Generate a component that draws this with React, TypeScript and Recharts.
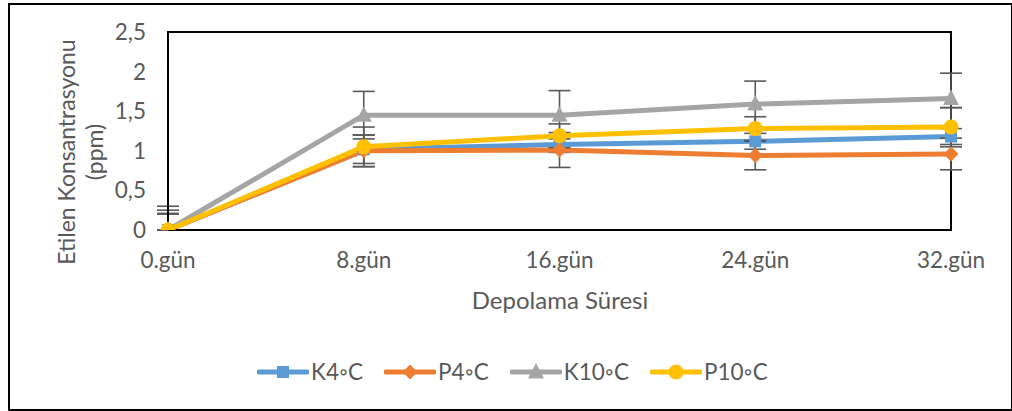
import React from 'react';
import { LineChart, Line, XAxis, YAxis, ErrorBar, ReferenceArea } from 'recharts';

const DAYS = ['0.gün', '8.gün', '16.gün', '24.gün', '32.gün'];
const K4 = [0, 1.02, 1.08, 1.12, 1.18];
const P4 = [0, 1.0, 1.01, 0.94, 0.96];
const K10 = [0, 1.45, 1.45, 1.59, 1.66];
const P10 = [0, 1.05, 1.19, 1.28, 1.3];
// [lower, upper] error per point
const K4_ERR: [number, number][] = [[0, 0.21], [0.18, 0.18], [0.1, 0.1], [0.1, 0.1], [0.1, 0.1]];
const P4_ERR: [number, number][] = [[0, 0.25], [0.2, 0.2], [0.22, 0.22], [0.18, 0.18], [0.2, 0.2]];
const K10_ERR: [number, number][] = [[0, 0.3], [0.3, 0.3], [0.3, 0.31], [0.3, 0.29], [0.115, 0.32]];
const P10_ERR: [number, number][] = [[0, 0.2], [0.25, 0.25], [0.15, 0.15], [0.15, 0.15], [0.25, 0.245]];
const Y_TICKS = [0, 0.5, 1, 1.5, 2, 2.5];

const SERIES = [
  { key: 'k4', name: 'K4◦C', color: '#5B9BD5', shape: 'square' },
  { key: 'p4', name: 'P4◦C', color: '#ED7D31', shape: 'diamond' },
  { key: 'k10', name: 'K10◦C', color: '#A5A5A5', shape: 'triangle' },
  { key: 'p10', name: 'P10◦C', color: '#FFC000', shape: 'circle' },
];

const data = DAYS.map((d, i) => ({
  day: d,
  k4: K4[i],
  p4: P4[i],
  k10: K10[i],
  p10: P10[i],
  k4Err: K4_ERR[i],
  p4Err: P4_ERR[i],
  k10Err: K10_ERR[i],
  p10Err: P10_ERR[i],
}));

const FONT = 'Lato, "Liberation Sans", sans-serif';
const TEXT = '#595959';

const Marker = ({ cx, cy, shape, color }: any) => {
  if (cx == null || cy == null) return null;
  if (shape === 'square') return <rect x={cx - 6} y={cy - 6} width={12} height={12} fill={color} />;
  if (shape === 'diamond')
    return <polygon points={`${cx},${cy - 7.5} ${cx + 7.5},${cy} ${cx},${cy + 7.5} ${cx - 7.5},${cy}`} fill={color} />;
  if (shape === 'triangle')
    return <polygon points={`${cx},${cy - 9} ${cx + 8},${cy + 6.5} ${cx - 8},${cy + 6.5}`} fill={color} />;
  return <circle cx={cx} cy={cy} r={7.5} fill={color} />;
};

const fmt = (v: number) => String(v).replace('.', ',');

const App = () => {
  return (
    <div style={{ position: 'absolute', left: 0, top: 0, width: 1012, height: 411, background: '#fff', fontFamily: FONT }}>
      <div
        style={{
          position: 'absolute',
          left: 8,
          top: 3,
          width: 1001,
          height: 404,
          border: '2px solid #000',
        }}
      />
      <LineChart
        width={1012}
        height={411}
        data={data}
        margin={{ top: 32, right: 61, left: 0, bottom: 0 }}
        style={{ position: 'absolute', left: 0, top: 0 }}
      >
        <XAxis
          dataKey="day"
          height={181}
          axisLine={{ stroke: '#000', strokeWidth: 2 }}
          tickLine={false}
          tickMargin={16}
          tick={{ fill: TEXT, fontSize: 22.5, fontFamily: FONT }}
          interval={0}
        />
        <YAxis
          width={168}
          domain={[0, 2.5]}
          allowDataOverflow
          ticks={Y_TICKS}
          tickFormatter={fmt}
          axisLine={{ stroke: '#000', strokeWidth: 2 }}
          tickLine={false}
          tickMargin={16}
          tick={{ fill: TEXT, fontSize: 22.5, fontFamily: FONT }}
        />
        <ReferenceArea
          x1={DAYS[0]}
          x2={DAYS[DAYS.length - 1]}
          y1={0}
          y2={2.5}
          fill="none"
          fillOpacity={0}
          stroke="#000"
          strokeWidth={2}
          strokeOpacity={1}
        />
        {SERIES.map((s) => (
          <Line
            key={s.key}
            dataKey={s.key}
            name={s.name}
            stroke={s.color}
            strokeWidth={5}
            isAnimationActive={false}
            dot={(p: any) => <Marker key={`${s.key}-${p.index}`} cx={p.cx} cy={p.cy} shape={s.shape} color={s.color} />}
            activeDot={false}
          >
            <ErrorBar dataKey={`${s.key}Err`} width={11} strokeWidth={1.6} stroke="#595959" direction="y" isAnimationActive={false} />
          </Line>
        ))}
      </LineChart>

      {/* y axis title */}
      <div
        style={{
          position: 'absolute',
          left: 80 - 150,
          top: 152 - 28,
          width: 300,
          height: 56,
          transform: 'rotate(-90deg)',
          textAlign: 'center',
          color: TEXT,
          fontSize: 23,
          lineHeight: '28px',
        }}
      >
        Etilen Konsantrasyonu
        <br />
        (ppm)
      </div>

      {/* x axis title */}
      <div style={{ position: 'absolute', left: 360, top: 285, width: 400, textAlign: 'center', color: TEXT, fontSize: 24, lineHeight: '30px' }}>
        Depolama Süresi
      </div>

      {/* legend */}
      <div style={{ position: 'absolute', left: 257, top: 358, display: 'flex', color: TEXT, fontSize: 22.5 }}>
        {SERIES.map((s) => (
          <div key={s.key} style={{ display: 'flex', alignItems: 'center', marginRight: 21 }}>
            <svg width={52} height={28}>
              <line x1={2} y1={14} x2={50} y2={14} stroke={s.color} strokeWidth={5} strokeLinecap="round" />
              <Marker cx={26} cy={14} shape={s.shape} color={s.color} />
            </svg>
            <span style={{ marginLeft: 2, lineHeight: '28px' }}>{s.name}</span>
          </div>
        ))}
      </div>
    </div>
  );
};

export default App;
